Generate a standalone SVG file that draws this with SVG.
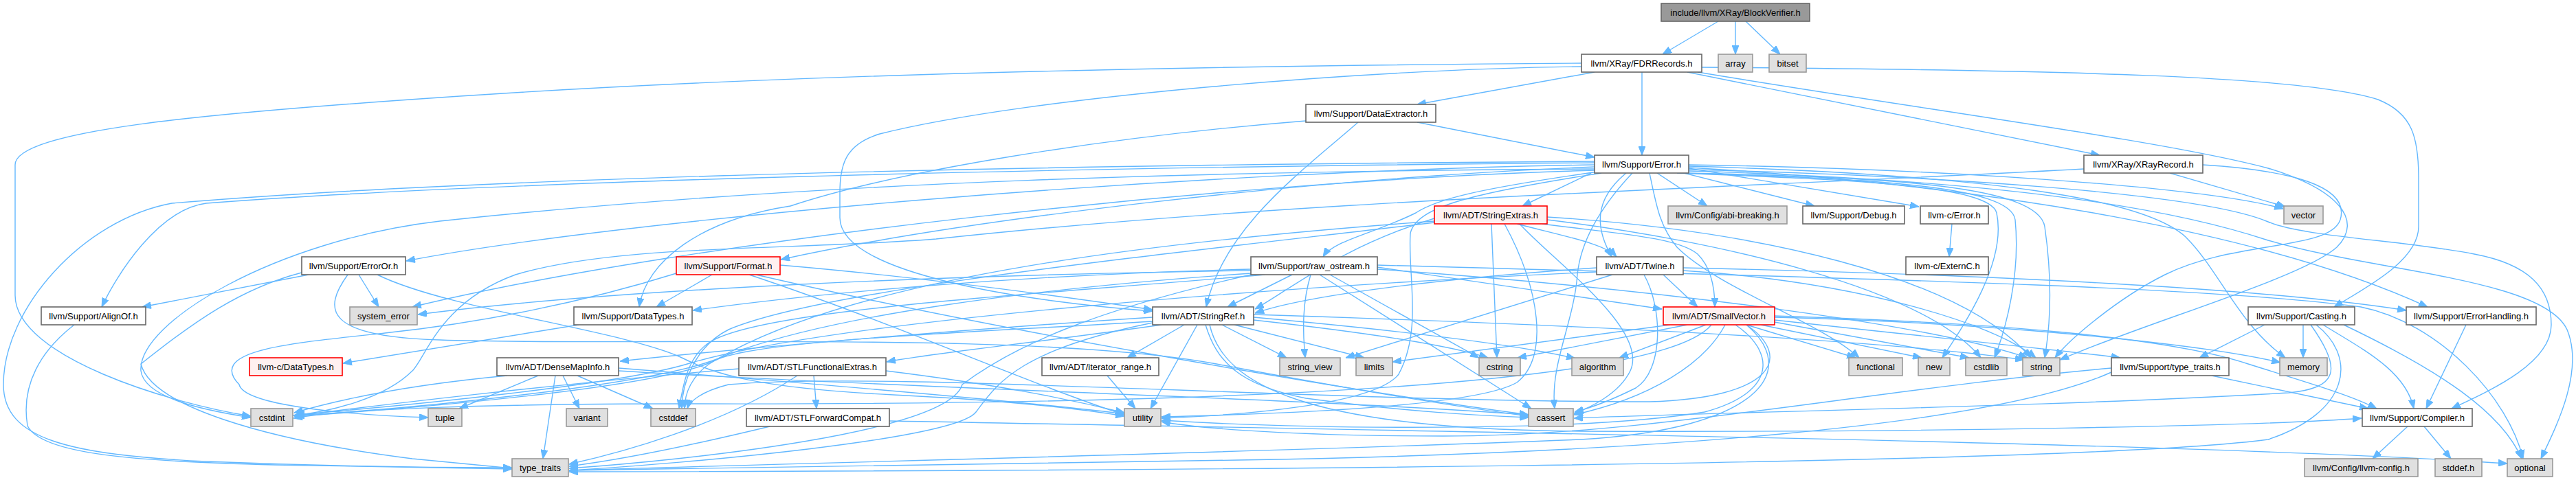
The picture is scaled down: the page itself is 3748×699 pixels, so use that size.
<svg xmlns="http://www.w3.org/2000/svg" width="3748" height="699" viewBox="0 0 3748 699">
<style>
.n rect{fill:#ffffff;stroke:#666666;stroke-width:1.6}
.x rect{fill:#e0e0e0;stroke:#999999;stroke-width:1.6}
.t rect{fill:#fff0f0;stroke:#ff0000;stroke-width:1.6}
.r rect{fill:#999999;stroke:#666666;stroke-width:1.6}
text{font-family:"Liberation Sans",Arial,Helvetica,sans-serif;font-size:13px;text-anchor:middle;fill:#000000}
#edges path{fill:none;stroke:#63b8ff;stroke-width:1.4;marker-end:url(#a)}
</style>
<defs>
<marker id="a" viewBox="0 0 13 10" refX="13" refY="5" markerWidth="13" markerHeight="10" markerUnits="userSpaceOnUse" orient="auto"><path d="M0,0 L13,5 L0,10 z" fill="#63b8ff" stroke="#63b8ff" stroke-width="1"/></marker>
</defs>
<rect x="0" y="0" width="3748" height="699" fill="#ffffff"/>
<g id="edges">
<path d="M2500,31 L2419,79"/>
<path d="M2525,31 L2525,79"/>
<path d="M2540,31 L2590,79"/>
<path d="M2320,105 L2062,152"/>
<path d="M2389,105 L2389,226"/>
<path d="M2455,105 L3055,226"/>
<path d="M2476,98 C3000,102 3350,110 3460,145 C3510,165 3519,200 3519,260 L3519,330 C3519,380 3440,420 3396,447"/>
<path d="M2470,105 C2800,160 3150,205 3300,245 C3400,275 3440,320 3400,360 C3350,405 3120,470 2997,524"/>
<path d="M2301,92 C1700,96 1100,110 640,142 C300,165 22,190 22,240 L22,430 C22,520 250,588 365,606"/>
<path d="M2301,97 C2000,100 1500,140 1280,195 C1230,210 1222,240 1222,280 L1222,317 C1222,400 1500,440 1677,453"/>
<path d="M2062,178 L2320,229"/>
<path d="M1976,178 C1900,245 1780,330 1755,447"/>
<path d="M1900,176 C1600,200 1300,250 1150,300 C1020,320 940,380 930,447"/>
<path d="M3157,252 L3325,301"/>
<path d="M3205,240 C3330,248 3420,270 3405,320 C3390,365 3250,350 3150,400 C3080,435 3010,495 2990,521"/>
<path d="M3032,246 C2500,275 1900,290 1362,348 C1150,365 900,355 750,400 C640,440 620,520 600,540 C560,580 480,600 427,605"/>
<path d="M2315,252 L2215,300"/>
<path d="M2411,252 L2484,300"/>
<path d="M2450,252 L2640,300"/>
<path d="M2457,245 L2792,301"/>
<path d="M2320,240 C1700,250 900,320 591,380"/>
<path d="M2320,243 C1900,260 1400,320 1136,378"/>
<path d="M2325,250 C2150,275 2090,290 2060,310 C2000,340 1940,350 1925,374"/>
<path d="M2366,252 C2320,290 2320,330 2345,374"/>
<path d="M2320,237 C1500,244 700,265 300,296 C230,305 170,400 148,447"/>
<path d="M2320,235 C1500,240 700,258 250,296 C120,320 5,450 5,560 C5,640 100,662 300,672 C500,680 650,681 745,681"/>
<path d="M2320,246 C1800,249 1200,262 640,322 C400,350 200,470 205,540 C210,580 300,598 365,608"/>
<path d="M2320,248 C1800,262 1000,350 600,447"/>
<path d="M2330,252 C2150,280 2060,300 2052,340 C2048,400 2070,480 2035,545 C2000,590 1800,605 1690,609"/>
<path d="M2375,252 C2330,300 2300,350 2295,400 C2290,470 2255,530 2262,595"/>
<path d="M2457,247 C2800,255 3200,280 3300,323 C3350,345 3500,350 3600,370 C3680,385 3712,420 3712,473 C3712,530 3620,570 3567,595"/>
<path d="M2457,249 C2900,262 3150,300 3300,350 C3450,395 3700,405 3735,480 C3760,540 3720,620 3697,668"/>
<path d="M2457,244 C2900,270 3300,340 3532,447"/>
<path d="M2457,242 C2900,255 3120,290 3180,345 C3230,395 3255,470 3325,521"/>
<path d="M2457,240 C2800,245 3200,270 3322,304"/>
<path d="M2450,252 C2750,258 2965,270 2975,330 C2988,420 2982,480 2975,521"/>
<path d="M2445,252 C2720,260 2925,270 2932,320 C2940,400 2918,480 2902,521"/>
<path d="M2440,252 C2700,262 2895,270 2905,310 C2920,380 2860,470 2826,521"/>
<path d="M2400,252 C2410,300 2415,330 2440,360 C2500,420 2650,470 2705,521"/>
<path d="M2087,318 C1950,360 1880,420 1826,450"/>
<path d="M2207,326 C2280,345 2335,355 2352,374"/>
<path d="M2244,326 C2350,340 2440,345 2470,370 C2490,390 2495,420 2495,447"/>
<path d="M2211,326 C2260,380 2400,480 2372,540 C2355,575 2310,595 2290,602"/>
<path d="M2170,326 L2178,521"/>
<path d="M2189,326 C2240,420 2255,520 2207,557 C2150,590 1900,602 1690,607"/>
<path d="M2251,320 C2500,350 2800,420 2882,521"/>
<path d="M2251,316 C2550,335 2850,400 2955,521"/>
<path d="M2087,322 C1700,350 1250,400 1040,525 C960,565 600,595 430,606"/>
<path d="M2087,324 C1700,370 1200,420 1060,480 C1010,505 992,560 992,595"/>
<path d="M2004,389 L2418,450"/>
<path d="M1880,400 L1786,447"/>
<path d="M1820,392 C1500,400 1200,425 1008,452"/>
<path d="M1920,400 L2228,595"/>
<path d="M1935,400 L2152,521"/>
<path d="M1907,400 C1895,440 1895,480 1899,521"/>
<path d="M1840,400 C1500,430 1100,450 1030,500 C1000,522 994,560 988,595"/>
<path d="M1820,398 C1500,420 1200,460 1050,520 C960,560 600,595 430,605"/>
<path d="M1820,394 C1400,400 900,420 608,458"/>
<path d="M1820,400 C1600,450 1480,500 1400,560 C1380,630 1000,670 828,682"/>
<path d="M2004,392 C2400,420 2800,470 2950,521"/>
<path d="M2004,386 C2600,403 3200,415 3435,447 C3550,470 3650,580 3671,668"/>
<path d="M2420,400 L2470,447"/>
<path d="M2323,390 C2100,405 1900,430 1826,456"/>
<path d="M2449,390 C2900,400 3300,420 3501,452"/>
<path d="M2392,400 C2420,450 2420,540 2380,565 C2340,585 2310,595 2291,600"/>
<path d="M2346,400 L1958,521"/>
<path d="M2323,396 C1800,420 1200,470 1000,530 C900,560 600,590 430,604"/>
<path d="M2449,394 C2700,410 2900,470 2962,521"/>
<path d="M1036,400 L955,447"/>
<path d="M1135,386 C1300,400 1500,425 1677,451"/>
<path d="M1100,400 C1400,470 1900,560 2224,604"/>
<path d="M1090,400 C1300,470 1500,560 1636,604"/>
<path d="M984,398 C850,440 700,470 560,485 C420,500 300,510 348,560 C355,590 500,604 623,608"/>
<path d="M449,400 L207,447"/>
<path d="M522,400 L551,447"/>
<path d="M506,400 C470,450 470,490 640,495 C900,505 1500,480 1770,530 C1900,555 2100,590 2224,606"/>
<path d="M549,400 C650,450 900,480 990,520 C1040,545 1100,565 1300,575 C1500,585 1600,600 1636,606"/>
<path d="M439,397 C350,420 280,470 205,530 C220,590 380,640 600,668 C680,676 720,680 745,682"/>
<path d="M108,473 C60,510 30,560 40,620 C60,662 200,672 400,677 C600,681 700,682 745,683"/>
<path d="M842,473 L499,529"/>
<path d="M1677,462 C1400,480 1100,505 902,526"/>
<path d="M1690,473 C1500,500 1350,515 1290,527"/>
<path d="M1723,473 L1640,521"/>
<path d="M1742,473 L1674,595"/>
<path d="M1754,473 C1770,525 1800,560 1900,580 C2050,600 2150,605 2224,608"/>
<path d="M1677,468 C1400,485 1100,495 1040,525 C1005,545 996,575 996,595"/>
<path d="M1778,473 L1872,521"/>
<path d="M1796,473 L1985,521"/>
<path d="M1824,466 C1950,480 2100,500 2165,521"/>
<path d="M1824,462 C2000,478 2200,500 2292,522"/>
<path d="M1824,458 C2200,470 2700,490 2945,524"/>
<path d="M1760,473 C1780,560 1900,625 2300,628 C2800,630 3300,620 3436,609"/>
<path d="M1677,470 C1480,510 1450,560 1420,600 C1390,640 1000,675 828,685"/>
<path d="M783,547 L668,595"/>
<path d="M819,547 L843,595"/>
<path d="M840,547 L950,595"/>
<path d="M808,547 L790,668"/>
<path d="M738,547 C600,560 500,580 428,601"/>
<path d="M900,536 C1200,560 1500,585 1636,603"/>
<path d="M900,540 C1300,565 1900,580 2224,604"/>
<path d="M1184,547 L1188,595"/>
<path d="M1160,547 C1050,620 900,660 828,676"/>
<path d="M1075,537 C800,560 550,590 428,606"/>
<path d="M1289,540 C1450,560 1550,580 1636,601"/>
<path d="M1120,621 C1000,650 900,670 828,679"/>
<path d="M1294,613 C2200,630 3200,645 3648,675"/>
<path d="M1611,547 L1652,595"/>
<path d="M2455,473 L2208,521"/>
<path d="M2430,473 L2026,527"/>
<path d="M2482,473 L2356,521"/>
<path d="M2541,473 L2700,521"/>
<path d="M2562,473 L2796,521"/>
<path d="M2582,469 L2865,521"/>
<path d="M2582,466 C2800,490 3000,510 3085,521"/>
<path d="M2582,462 C2900,470 3200,500 3318,528"/>
<path d="M2582,460 C2900,470 3150,490 3271,530 C3350,555 3420,575 3458,595"/>
<path d="M2510,473 C2480,530 2400,580 2290,604"/>
<path d="M2525,473 C2580,510 2590,570 2480,600 C2300,630 1900,625 1690,612"/>
<path d="M2541,473 C2610,520 2580,580 2400,585 C1900,585 1300,540 1060,560 C1020,570 1003,585 1000,595"/>
<path d="M2490,473 C2420,560 1800,590 1000,588 C700,588 500,596 427,609"/>
<path d="M2541,473 C2620,540 2560,625 2300,640 C1800,660 1100,676 828,685"/>
<path d="M3295,473 L3200,521"/>
<path d="M3351,473 L3351,521"/>
<path d="M3380,473 C3440,510 3500,540 3512,595"/>
<path d="M3410,473 C3550,540 3640,600 3669,668"/>
<path d="M3362,473 C3410,540 3400,565 3330,572 C3000,592 2500,600 2290,609"/>
<path d="M3370,473 C3430,520 3420,600 3300,640 C3000,680 1500,686 828,687"/>
<path d="M3588,473 L3530,595"/>
<path d="M3218,547 L3446,595"/>
<path d="M3072,542 C2900,620 2400,660 1800,670 C1300,678 1000,684 828,685"/>
<path d="M3072,536 C2700,570 2400,635 2100,635 C1900,635 1750,625 1690,614"/>
<path d="M3503,621 L3452,668"/>
<path d="M3527,621 L3566,668"/>
<path d="M2840,326 L2836,374"/>
</g>
<g id="node-blockverifier" class="r"><rect x="2417" y="5" width="216" height="26"/><text x="2525" y="22.5">include/llvm/XRay/BlockVerifier.h</text></g>
<g id="node-fdrrecords" class="n"><rect x="2301" y="79" width="175" height="26"/><text x="2388.5" y="96.5">llvm/XRay/FDRRecords.h</text></g>
<g id="node-array" class="x"><rect x="2500" y="79" width="50" height="26"/><text x="2525" y="96.5">array</text></g>
<g id="node-bitset" class="x"><rect x="2574" y="79" width="54" height="26"/><text x="2601" y="96.5">bitset</text></g>
<g id="node-dataextractor" class="n"><rect x="1900" y="152" width="189" height="26"/><text x="1994.5" y="169.5">llvm/Support/DataExtractor.h</text></g>
<g id="node-error" class="n"><rect x="2320" y="226" width="137" height="26"/><text x="2388.5" y="243.5">llvm/Support/Error.h</text></g>
<g id="node-xrayrecord" class="n"><rect x="3032" y="226" width="173" height="26"/><text x="3118.5" y="243.5">llvm/XRay/XRayRecord.h</text></g>
<g id="node-stringextras" class="t"><rect x="2087" y="300" width="164" height="26"/><text x="2169" y="317.5">llvm/ADT/StringExtras.h</text></g>
<g id="node-abibreaking" class="x"><rect x="2427" y="300" width="173" height="26"/><text x="2513.5" y="317.5">llvm/Config/abi-breaking.h</text></g>
<g id="node-debug" class="n"><rect x="2623" y="300" width="148" height="26"/><text x="2697" y="317.5">llvm/Support/Debug.h</text></g>
<g id="node-cerror" class="n"><rect x="2794" y="300" width="99" height="26"/><text x="2843.5" y="317.5">llvm-c/Error.h</text></g>
<g id="node-vector" class="x"><rect x="3323" y="300" width="57" height="26"/><text x="3351.5" y="317.5">vector</text></g>
<g id="node-erroror" class="n"><rect x="439" y="374" width="151" height="26"/><text x="514.5" y="391.5">llvm/Support/ErrorOr.h</text></g>
<g id="node-format" class="t"><rect x="984" y="374" width="151" height="26"/><text x="1059.5" y="391.5">llvm/Support/Format.h</text></g>
<g id="node-rawostream" class="n"><rect x="1820" y="374" width="184" height="26"/><text x="1912" y="391.5">llvm/Support/raw_ostream.h</text></g>
<g id="node-twine" class="n"><rect x="2323" y="374" width="126" height="26"/><text x="2386" y="391.5">llvm/ADT/Twine.h</text></g>
<g id="node-externc" class="n"><rect x="2773" y="374" width="120" height="26"/><text x="2833" y="391.5">llvm-c/ExternC.h</text></g>
<g id="node-alignof" class="n"><rect x="60" y="447" width="152" height="26"/><text x="136" y="464.5">llvm/Support/AlignOf.h</text></g>
<g id="node-system-error" class="x"><rect x="509" y="447" width="98" height="26"/><text x="558" y="464.5">system_error</text></g>
<g id="node-datatypes" class="n"><rect x="835" y="447" width="172" height="26"/><text x="921" y="464.5">llvm/Support/DataTypes.h</text></g>
<g id="node-stringref" class="n"><rect x="1677" y="447" width="147" height="26"/><text x="1750.5" y="464.5">llvm/ADT/StringRef.h</text></g>
<g id="node-smallvector" class="t"><rect x="2420" y="447" width="162" height="26"/><text x="2501" y="464.5">llvm/ADT/SmallVector.h</text></g>
<g id="node-casting" class="n"><rect x="3271" y="447" width="155" height="26"/><text x="3348.5" y="464.5">llvm/Support/Casting.h</text></g>
<g id="node-errorhandling" class="n"><rect x="3501" y="447" width="189" height="26"/><text x="3595.5" y="464.5">llvm/Support/ErrorHandling.h</text></g>
<g id="node-c-datatypes" class="t"><rect x="363" y="521" width="135" height="26"/><text x="430.5" y="538.5">llvm-c/DataTypes.h</text></g>
<g id="node-densemapinfo" class="n"><rect x="723" y="521" width="177" height="26"/><text x="811.5" y="538.5">llvm/ADT/DenseMapInfo.h</text></g>
<g id="node-stlfunctionalextras" class="n"><rect x="1075" y="521" width="214" height="26"/><text x="1182" y="538.5">llvm/ADT/STLFunctionalExtras.h</text></g>
<g id="node-iterator-range" class="n"><rect x="1516" y="521" width="170" height="26"/><text x="1601" y="538.5">llvm/ADT/iterator_range.h</text></g>
<g id="node-string-view" class="x"><rect x="1862" y="521" width="88" height="26"/><text x="1906" y="538.5">string_view</text></g>
<g id="node-limits" class="x"><rect x="1973" y="521" width="53" height="26"/><text x="1999.5" y="538.5">limits</text></g>
<g id="node-cstring" class="x"><rect x="2152" y="521" width="60" height="26"/><text x="2182" y="538.5">cstring</text></g>
<g id="node-algorithm" class="x"><rect x="2287" y="521" width="75" height="26"/><text x="2324.5" y="538.5">algorithm</text></g>
<g id="node-functional" class="x"><rect x="2690" y="521" width="78" height="26"/><text x="2729" y="538.5">functional</text></g>
<g id="node-new" class="x"><rect x="2791" y="521" width="46" height="26"/><text x="2814" y="538.5">new</text></g>
<g id="node-cstdlib" class="x"><rect x="2860" y="521" width="60" height="26"/><text x="2890" y="538.5">cstdlib</text></g>
<g id="node-string" class="x"><rect x="2943" y="521" width="54" height="26"/><text x="2970" y="538.5">string</text></g>
<g id="node-support-type-traits" class="n"><rect x="3072" y="521" width="171" height="26"/><text x="3157.5" y="538.5">llvm/Support/type_traits.h</text></g>
<g id="node-memory" class="x"><rect x="3317" y="521" width="69" height="26"/><text x="3351.5" y="538.5">memory</text></g>
<g id="node-cstdint" class="x"><rect x="365" y="595" width="61" height="26"/><text x="395.5" y="612.5">cstdint</text></g>
<g id="node-tuple" class="x"><rect x="623" y="595" width="49" height="26"/><text x="647.5" y="612.5">tuple</text></g>
<g id="node-variant" class="x"><rect x="824" y="595" width="60" height="26"/><text x="854" y="612.5">variant</text></g>
<g id="node-cstddef" class="x"><rect x="947" y="595" width="65" height="26"/><text x="979.5" y="612.5">cstddef</text></g>
<g id="node-stlforwardcompat" class="n"><rect x="1086" y="595" width="208" height="26"/><text x="1190" y="612.5">llvm/ADT/STLForwardCompat.h</text></g>
<g id="node-utility" class="x"><rect x="1636" y="595" width="53" height="26"/><text x="1662.5" y="612.5">utility</text></g>
<g id="node-cassert" class="x"><rect x="2224" y="595" width="65" height="26"/><text x="2256.5" y="612.5">cassert</text></g>
<g id="node-compiler" class="n"><rect x="3437" y="595" width="160" height="26"/><text x="3517" y="612.5">llvm/Support/Compiler.h</text></g>
<g id="node-type-traits" class="x"><rect x="745" y="668" width="82" height="26"/><text x="786" y="685.5">type_traits</text></g>
<g id="node-llvm-config" class="x"><rect x="3353" y="668" width="165" height="26"/><text x="3435.5" y="685.5">llvm/Config/llvm-config.h</text></g>
<g id="node-stddef" class="x"><rect x="3543" y="668" width="68" height="26"/><text x="3577" y="685.5">stddef.h</text></g>
<g id="node-optional" class="x"><rect x="3648" y="668" width="66" height="26"/><text x="3681" y="685.5">optional</text></g>
</svg>
